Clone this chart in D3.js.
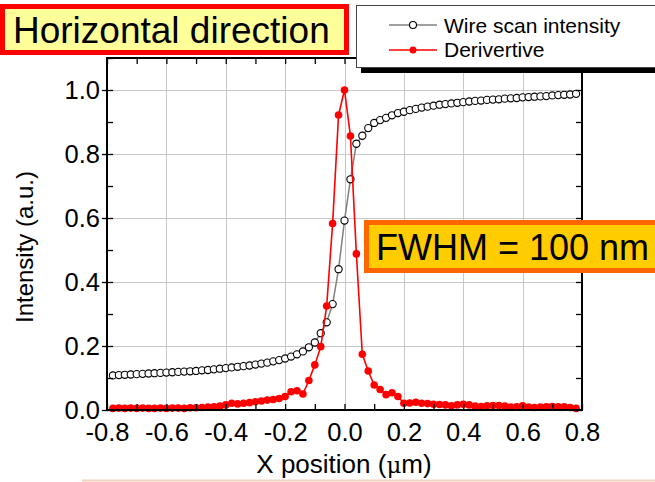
<!DOCTYPE html>
<html>
<head>
<meta charset="utf-8">
<script src="https://cdn.jsdelivr.net/npm/d3@7"></script>
<style>
  html, body { margin: 0; padding: 0; background: #fff; }
  svg { display: block; }
  text { font-family: "Liberation Sans", Arial, sans-serif; fill: #000; }
</style>
</head>
<body>
<svg id="chart" width="655" height="482"></svg>
<script>
// Scan positions (µm), shared by both series
const positions = d3.range(-39, 40).map(i => +(i * 0.02).toFixed(2));

// Normalised wire scan intensity
const wireScan = [
  0.108, 0.109, 0.110, 0.111, 0.112, 0.113, 0.114, 0.115, 0.116, 0.117,
  0.118, 0.119, 0.120, 0.121, 0.122, 0.124, 0.125, 0.127, 0.129, 0.131,
  0.133, 0.135, 0.137, 0.139, 0.142, 0.145, 0.148, 0.152, 0.156, 0.161,
  0.167, 0.174, 0.183, 0.196, 0.211, 0.240, 0.274, 0.331, 0.440, 0.592,
  0.721, 0.832, 0.857, 0.881, 0.897, 0.906, 0.913, 0.921, 0.928, 0.932,
  0.937, 0.941, 0.945, 0.948, 0.951, 0.954, 0.956, 0.958, 0.960, 0.962,
  0.964, 0.966, 0.967, 0.969, 0.970, 0.971, 0.973, 0.974, 0.975, 0.977,
  0.978, 0.979, 0.980, 0.981, 0.983, 0.984, 0.985, 0.986, 0.988
];

// Normalised derivative of the wire scan
const derivative = [
  0.005, 0.006, 0.005, 0.006, 0.005, 0.006, 0.005, 0.005, 0.006, 0.005,
  0.006, 0.006, 0.005, 0.007, 0.007, 0.008, 0.009, 0.010, 0.012, 0.016,
  0.021, 0.019, 0.021, 0.023, 0.026, 0.028, 0.031, 0.033, 0.036, 0.042,
  0.057, 0.060, 0.050, 0.092, 0.141, 0.198, 0.325, 0.583, 0.922, 1.000,
  0.856, 0.488, 0.174, 0.122, 0.078, 0.064, 0.048, 0.054, 0.042, 0.021,
  0.022, 0.024, 0.021, 0.020, 0.018, 0.017, 0.016, 0.013, 0.016, 0.018,
  0.016, 0.012, 0.011, 0.013, 0.014, 0.014, 0.012, 0.009, 0.010, 0.013,
  0.009, 0.008, 0.009, 0.010, 0.011, 0.010, 0.010, 0.008, 0.005
];

const xMajorTicks = [-0.8, -0.6, -0.4, -0.2, 0.0, 0.2, 0.4, 0.6, 0.8];
const xMinorTicks = d3.range(-8, 9).map(i => +(i * 0.1).toFixed(1));
const yMajorTicks = [0.0, 0.2, 0.4, 0.6, 0.8, 1.0];
const yMinorTicks = d3.range(0, 12).map(i => +(i * 0.1).toFixed(1));

const titleText = "Horizontal direction";
const fwhmText = "FWHM = 100 nm";
const legendLabels = ["Wire scan intensity", "Derivertive"];

const svg = d3.select("#chart");
const plotL = 107, plotR = 582, plotT = 58, plotB = 410;

const x = d3.scaleLinear().domain([-0.8, 0.8]).range([plotL, plotR]);
const y = d3.scaleLinear().domain([0, 1.1]).range([plotB, plotT]);
const fmt = d => d.toFixed(1);

// Grid
const grid = svg.append("g").attr("stroke", "#c8c8c8").attr("stroke-width", 1);
grid.selectAll(".gx").data(xMajorTicks.slice(1, -1)).join("line")
  .attr("x1", d => Math.round(x(d)) + 0.5).attr("x2", d => Math.round(x(d)) + 0.5)
  .attr("y1", plotT).attr("y2", plotB);
grid.selectAll(".gy").data(yMajorTicks.slice(1)).join("line")
  .attr("y1", d => Math.round(y(d)) + 0.5).attr("y2", d => Math.round(y(d)) + 0.5)
  .attr("x1", plotL).attr("x2", plotR);

// Series
const wirePts = positions.map((p, i) => [p, wireScan[i]]);
const derivPts = positions.map((p, i) => [p, derivative[i]]);
const line = d3.line().x(d => x(d[0])).y(d => y(d[1]));

svg.append("path").datum(wirePts).attr("d", line)
  .attr("fill", "none").attr("stroke", "#808080").attr("stroke-width", 1.5);
svg.append("g").selectAll("circle").data(wirePts).join("circle")
  .attr("cx", d => x(d[0])).attr("cy", d => y(d[1])).attr("r", 3.6)
  .attr("fill", "#fff").attr("stroke", "#000").attr("stroke-width", 1.1);

svg.append("path").datum(derivPts).attr("d", line)
  .attr("fill", "none").attr("stroke", "#ff0000").attr("stroke-width", 1.6);
svg.append("g").selectAll("circle").data(derivPts).join("circle")
  .attr("cx", d => x(d[0])).attr("cy", d => y(d[1])).attr("r", 3.8)
  .attr("fill", "#ff0000");

// Axes: labelled majors plus inward minor ticks on all four sides
function styleAxis(g) {
  g.select(".domain").remove();
  g.selectAll(".tick line").attr("stroke", "#000").attr("stroke-width", 1.3);
  g.selectAll("text").attr("font-size", 25.5)
    .attr("font-family", "'Liberation Sans', Arial, sans-serif").attr("fill", "#000");
}
svg.append("g").attr("transform", `translate(0,${plotB})`)
  .call(d3.axisBottom(x).tickValues(xMajorTicks).tickFormat(fmt).tickSize(0).tickPadding(13))
  .call(styleAxis);
svg.append("g").attr("transform", `translate(0,${plotB})`)
  .call(d3.axisBottom(x).tickValues(xMinorTicks).tickFormat("").tickSize(-6))
  .call(styleAxis);
svg.append("g").attr("transform", `translate(0,${plotT})`)
  .call(d3.axisTop(x).tickValues(xMinorTicks).tickFormat("").tickSize(-6))
  .call(styleAxis);
svg.append("g").attr("transform", `translate(${plotL},0)`)
  .call(d3.axisLeft(y).tickValues(yMajorTicks).tickFormat(fmt).tickSize(5).tickPadding(2))
  .call(styleAxis);
svg.append("g").attr("transform", `translate(${plotL},0)`)
  .call(d3.axisLeft(y).tickValues(yMinorTicks).tickFormat("").tickSize(-6))
  .call(styleAxis);
svg.append("g").attr("transform", `translate(${plotR},0)`)
  .call(d3.axisRight(y).tickValues(yMinorTicks).tickFormat("").tickSize(-6))
  .call(styleAxis);

// Frame
svg.append("rect").attr("x", plotL).attr("y", plotT)
  .attr("width", plotR - plotL).attr("height", plotB - plotT)
  .attr("fill", "none").attr("stroke", "#000").attr("stroke-width", 2);

// Axis titles
svg.append("text").attr("transform", "translate(33,247) rotate(-90)")
  .attr("text-anchor", "middle").attr("font-size", 24).text("Intensity (a.u.)");
const xt = svg.append("text").attr("x", 344).attr("y", 473)
  .attr("text-anchor", "middle").attr("font-size", 26);
xt.append("tspan").text("X position (");
xt.append("tspan").attr("font-family", "'DejaVu Serif', serif").attr("font-size", 23).text("μ");
xt.append("tspan").text("m)");

// Title box
svg.append("rect").attr("x", 2.5).attr("y", 6.5).attr("width", 344).attr("height", 46)
  .attr("fill", "#ffff99").attr("stroke", "#ff0000").attr("stroke-width", 5);
svg.append("text").attr("x", 13).attr("y", 43).attr("font-size", 37).text(titleText);

// Legend with drop shadow
svg.append("rect").attr("x", 361).attr("y", 10).attr("width", 320).attr("height", 63).attr("fill", "#000");
svg.append("rect").attr("x", 356.5).attr("y", 5.5).attr("width", 320).attr("height", 62)
  .attr("fill", "#fff").attr("stroke", "#444").attr("stroke-width", 1);
const legendRows = [
  { label: legendLabels[0], color: "#808080", fill: "#fff", stroke: "#000", ly: 25, ty: 33 },
  { label: legendLabels[1], color: "#ff0000", fill: "#ff0000", stroke: "none", ly: 50, ty: 57 }
];
const lg = svg.append("g").selectAll("g").data(legendRows).join("g");
lg.append("line").attr("x1", 389).attr("x2", 437).attr("y1", d => d.ly).attr("y2", d => d.ly)
  .attr("stroke", d => d.color).attr("stroke-width", 1.5);
lg.append("circle").attr("cx", 413).attr("cy", d => d.ly).attr("r", 3.5)
  .attr("fill", d => d.fill).attr("stroke", d => d.stroke).attr("stroke-width", 1.1);
lg.append("text").attr("x", 444).attr("y", d => d.ty).attr("font-size", 21).text(d => d.label);

// FWHM annotation
svg.append("rect").attr("x", 366.5).attr("y", 222.5).attr("width", 320).attr("height", 48)
  .attr("fill", "#ffcc00").attr("stroke", "#ff6600").attr("stroke-width", 5);
svg.append("text").attr("x", 376).attr("y", 260).attr("font-size", 36).text(fwhmText);

// Faint rule along the bottom edge
svg.append("line").attr("x1", 82).attr("x2", 655).attr("y1", 480.5).attr("y2", 480.5)
  .attr("stroke", "#f3d2bd").attr("stroke-width", 2);
</script>
</body>
</html>
